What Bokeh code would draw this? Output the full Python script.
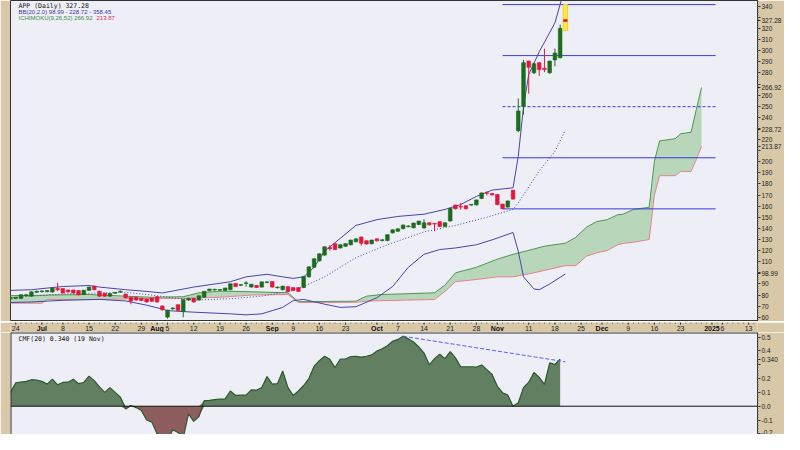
from bokeh.plotting import figure
from bokeh.layouts import column
from bokeh.models import Range1d, FixedTicker, Label, Span
from bokeh.embed import file_html
from bokeh.resources import INLINE

# ---------------- data (x = trading-day index, 0 = 21 Jun 2024) ----------------
opens = [76.5, 77.0, 77.0, 79.3, 79.0, 82.5, 83.0, 83.0, 82.7, 85.5,
         85.4, 84.2, 84.2, 83.7, 80.5, 84.2, 87.7, 83.1, 81.3, 79.0,
         81.7, 82.8, 80.5, 77.6, 77.6, 76.7, 76.0, 77.0, 78.1, 69.8,
         60.2, 67.6, 70.9, 65.1, 75.5, 76.7, 75.5, 78.1, 84.0, 84.6,
         84.4, 84.2, 84.8, 90.0, 88.8, 90.4, 87.2, 88.3, 87.2, 91.3,
         91.8, 86.6, 84.8, 87.2, 86.3, 86.3, 86.8, 96.4, 105.0, 110.8,
         116.0, 122.5, 125.9, 122.4, 123.9, 125.3, 128.0, 131.9, 128.5, 126.2,
         130.2, 129.0, 129.1, 136.0, 137.5, 139.8, 141.6, 140.6, 143.6, 140.4,
         144.7, 144.1, 145.6, 141.8, 146.7, 160.6, 159.4, 160.0, 161.0, 161.2,
         167.0, 171.8, 171.0, 170.2, 161.5, 159.2, 174.0, 228.0, 249.7, 290.3,
         280.1, 288.8, 283.8, 280.1, 291.7, 293.7, 327.8]
highs = [78.5, 78.3, 80.6, 80.8, 83.2, 84.0, 84.3, 84.5, 86.4, 91.1,
         86.0, 84.8, 84.8, 84.3, 84.6, 87.5, 88.4, 83.7, 81.9, 81.6,
         82.8, 84.0, 81.2, 78.2, 78.2, 77.3, 76.6, 77.6, 78.8, 70.6,
         66.8, 69.0, 71.6, 76.2, 77.4, 77.3, 79.6, 83.6, 85.6, 85.6,
         85.3, 86.6, 90.4, 90.6, 90.0, 92.5, 90.0, 88.9, 92.1, 92.4,
         92.4, 87.6, 88.3, 87.8, 86.9, 86.9, 97.0, 105.8, 113.0, 117.5,
         123.8, 125.0, 126.6, 125.7, 126.6, 129.8, 130.9, 132.6, 129.2, 129.8,
         130.9, 130.2, 134.7, 139.0, 139.9, 143.4, 142.8, 145.1, 146.9, 148.2,
         145.3, 145.0, 146.3, 145.4, 158.4, 161.3, 163.0, 160.7, 162.0, 166.0,
         172.3, 173.5, 171.8, 170.9, 162.2, 165.1, 174.7, 257.0, 291.7, 291.0,
         289.4, 289.5, 301.8, 291.0, 301.8, 323.5, 341.5]
lows = [75.8, 76.2, 76.6, 78.8, 78.6, 81.8, 82.2, 82.4, 82.2, 83.3,
        81.4, 82.2, 81.4, 79.7, 80.0, 83.7, 84.3, 78.4, 78.5, 78.5,
        81.0, 82.0, 77.0, 71.8, 75.0, 74.5, 73.2, 73.8, 73.2, 66.0,
        58.8, 66.8, 65.4, 60.0, 74.9, 73.2, 75.0, 77.6, 83.4, 84.0,
        83.8, 83.7, 84.3, 87.2, 88.0, 87.5, 86.7, 86.3, 86.7, 90.6,
        86.6, 85.9, 84.3, 82.6, 83.7, 82.8, 86.3, 95.8, 104.4, 110.2,
        115.4, 120.0, 120.4, 121.8, 123.3, 124.7, 127.4, 124.5, 125.3, 125.6,
        128.2, 128.4, 128.5, 135.4, 136.9, 139.2, 141.0, 140.0, 143.0, 139.8,
        142.6, 137.5, 141.2, 141.2, 146.1, 157.1, 156.8, 157.1, 160.4, 160.6,
        166.4, 169.8, 169.6, 160.9, 157.6, 158.6, 165.8, 226.6, 242.5, 261.3,
        279.0, 277.2, 280.7, 279.2, 285.9, 293.0, 318.0]
closes = [77.5, 77.6, 79.9, 79.9, 82.5, 83.0, 83.3, 83.6, 85.7, 84.8,
          81.9, 82.8, 81.9, 80.2, 84.0, 86.8, 84.8, 79.0, 79.0, 81.0,
          82.0, 83.0, 77.6, 74.7, 75.5, 75.0, 73.8, 74.4, 73.8, 66.8,
          66.0, 68.0, 66.0, 75.5, 76.7, 73.8, 79.0, 83.0, 85.0, 84.8,
          84.5, 86.0, 89.8, 87.7, 89.0, 90.6, 89.4, 86.8, 91.5, 91.5,
          87.2, 86.8, 87.7, 83.1, 84.2, 83.3, 96.4, 105.0, 112.3, 116.7,
          123.0, 121.8, 121.0, 125.0, 125.9, 129.1, 130.2, 126.7, 125.9, 129.1,
          128.8, 129.3, 134.0, 138.3, 139.2, 142.7, 141.8, 144.4, 146.2, 144.7,
          143.2, 143.9, 141.8, 144.7, 157.7, 157.7, 159.2, 157.7, 161.2, 165.3,
          171.6, 171.6, 170.2, 161.5, 157.7, 164.4, 166.4, 245.4, 288.8, 285.1,
          287.9, 283.0, 283.0, 290.3, 297.5, 319.8, 327.28]

bb_up_idx = [0, 4, 7, 10, 15, 17, 22, 26, 29, 35, 42, 45, 49, 52, 54, 56, 58, 60, 63, 66,
             70, 74, 79, 83, 86, 89, 92, 96, 97, 98, 99, 101, 104, 106]
bb_upper = [84.2, 84.8, 86.3, 87.7, 88.6, 87.2, 84.8, 83.3, 81.9, 87.2, 92.0, 96.4, 98.7, 96.4,
            95.0, 96.4, 105.0, 119.5, 131.1, 142.7, 147.9, 150.8, 152.8, 157.1, 161.5, 168.8,
            174.5, 176.6, 205.0, 249.7, 278.6, 299.0, 325.0, 358.45]
bb_mid_idx = [0, 10, 22, 26, 31, 35, 42, 48, 54, 56, 60, 66, 72, 79, 85, 91, 94, 96, 97, 99,
              101, 104, 106]
bb_mid = [77.6, 81.0, 82.5, 80.5, 77.6, 75.5, 76.7, 79.0, 84.0, 87.7, 96.4, 113.7, 125.3,
          136.9, 142.7, 150.0, 154.3, 157.1, 163.0, 177.4, 191.8, 209.2, 228.72]
bb_low_idx = [0, 4, 10, 17, 22, 26, 29, 30, 35, 42, 45, 48, 50, 52, 54, 56, 60, 63, 66, 70,
              73, 76, 79, 82, 85, 89, 92, 96, 97, 98, 100, 101, 103, 106]
bb_lower = [73.3, 73.8, 75.3, 76.1, 74.7, 70.9, 67.4, 66.0, 64.6, 63.1, 62.2, 63.1, 66.0, 68.9,
            75.0, 76.1, 71.8, 68.9, 69.5, 77.6, 87.7, 105.0, 116.7, 121.0, 122.4, 125.3, 129.7,
            136.3, 119.5, 96.4, 85.5, 84.8, 90.0, 98.99]

cloud_idx = [0, 6, 7, 15, 22, 27, 33, 36, 40, 46, 53, 55, 66, 68, 71, 81, 83, 85, 89, 93,
             96, 100, 102, 106, 108, 110, 112, 114, 116, 117, 119, 122, 123, 124, 127, 128,
             130, 131, 132]
span_a = [79.5, 79.8, 80.0, 80.5, 79.0, 78.0, 78.5, 82.0, 83.5, 83.0, 82.0, 74.0, 74.5, 79.0,
          80.5, 82.0, 89.0, 100.0, 105.0, 112.3, 116.7, 121.5, 124.0, 126.7, 132.0, 141.0,
          146.2, 147.9, 152.3, 152.8, 157.1, 159.0, 200.5, 218.8, 220.8, 225.2, 226.6, 246.9,
          266.92]
span_b = [72.7, 72.7, 76.0, 76.0, 76.5, 77.0, 77.0, 77.5, 78.0, 80.0, 80.5, 73.3, 73.5, 74.5,
          75.0, 76.0, 83.3, 92.0, 94.0, 96.4, 96.4, 100.0, 102.2, 106.5, 106.5, 115.0, 118.0,
          120.1, 125.3, 126.5, 127.6, 130.0, 170.0, 187.5, 187.5, 191.3, 191.3, 202.0, 213.87]

quad_start = 94
quad_end = 134.7
quad_levels = [157.6, 203.6, 249.6, 295.6, 341.5]

cmf = [0.10, 0.17, 0.175, 0.18, 0.192, 0.19, 0.18, 0.16, 0.196, 0.155,
       0.172, 0.174, 0.195, 0.163, 0.172, 0.218, 0.185, 0.14, 0.10, 0.135,
       0.10, 0.065, -0.02, 0.005, -0.01, -0.03, -0.10, -0.115, -0.20, -0.23,
       -0.25, -0.17, -0.19, -0.23, -0.055, -0.11, -0.075, 0.04, 0.042, 0.048,
       0.052, 0.053, 0.11, 0.078, 0.08, 0.08, 0.118, 0.116, 0.135, 0.215,
       0.16, 0.163, 0.255, 0.135, 0.078, 0.11, 0.15, 0.20, 0.29, 0.33,
       0.362, 0.34, 0.28, 0.342, 0.342, 0.36, 0.361, 0.356, 0.362, 0.372,
       0.40, 0.416, 0.438, 0.47, 0.484, 0.507, 0.488, 0.465, 0.43, 0.385,
       0.30, 0.344, 0.377, 0.345, 0.396, 0.35, 0.286, 0.286, 0.286, 0.284,
       0.298, 0.265, 0.23, 0.144, 0.098, 0.08, 0.0, 0.025, 0.135, 0.174,
       0.244, 0.209, 0.158, 0.314, 0.302, 0.34]
cmf_trend_idx = [75, 106]
cmf_trend = [0.507, 0.322]

day_idx = [1, 10, 15, 20, 25, 30, 35, 40, 45, 54, 59, 64, 74, 79, 84, 89, 99, 104, 109, 118,
           123, 128, 136, 141]
day_lbl = ["24", "8", "15", "22", "29", "5", "12", "19", "26", "9", "16", "23", "7", "14",
           "21", "28", "11", "18", "25", "9", "16", "23", "6", "13"]
month_idx = [6, 28, 50, 70, 93, 113, 134]
month_lbl = ["Jul", "Aug", "Sep", "Oct", "Nov", "Dec", "2025"]
all_days = list(range(0, 143))

price_ticks = [60, 70, 80, 90, 100, 110, 120, 130, 140, 150, 160, 170, 180, 190, 200, 210,
               220, 230, 240, 250, 260, 270, 280, 290, 300, 310, 320, 330, 340]
price_hidden = [100, 210, 230, 270, 330]
last_vals = [327.28, 266.92, 228.72, 213.87, 98.99]
last_txt = ["327.28", "266.92", "228.72", "213.87", "98.99"]
cmf_ticks = [-0.2, -0.1, 0, 0.1, 0.2, 0.3, 0.4, 0.5]
cmf_tick_txt = ["-0.2", "-0.1", "0.0", "0.1", "0.2", "", "0.4", "0.5"]
cmf_last = 0.34
cmf_last_txt = "0.340"

# ---------------- styling ----------------
TAN = "#d8c8a8"
BG = "#eeeef7"
W = 784
LEFT, RIGHT = 10, 27
MAIN_H = 321
STRIP_H = 11
CMF_H = 102
UP, DOWN = "#1d6b1d", "#e3173e"
BB_COL = "#4646a6"
X0, X1 = 0.0, 142.7
CMF_Y0, CMF_Y1 = -0.205, 0.534


def style_axis(ax, size="6.5px", tick=3):
    ax.major_label_text_font_size = size
    ax.major_label_text_color = "#222222"
    ax.major_label_standoff = 1
    ax.major_tick_out = tick
    ax.major_tick_in = 0
    ax.minor_tick_out = 1
    ax.minor_tick_in = 0
    ax.axis_line_color = "#333333"
    ax.major_tick_line_color = "#333333"
    ax.minor_tick_line_color = "#666666"


x_range = Range1d(X0, X1)
p = figure(width=W, height=MAIN_H, x_range=x_range, y_range=Range1d(56.2, 345.2),
           output_backend="svg", toolbar_location=None, y_axis_location="right",
           x_axis_location=None, min_border_left=LEFT, min_border_right=RIGHT,
           min_border_top=0, min_border_bottom=0)
p.background_fill_color = BG
p.border_fill_color = TAN
p.outline_line_color = "#333333"
p.grid.visible = False

# Ichimoku cloud
p.varea(x=cloud_idx, y1=span_b, y2=span_a, fill_color="#a6cfa6", fill_alpha=0.75)
p.line(cloud_idx, span_a, line_color="#4f974f", line_width=1)
p.line(cloud_idx, span_b, line_color="#e38391", line_width=1)

# quadrant lines
solid_levels = [v for k, v in enumerate(quad_levels) if k != 2]
p.segment(x0=[quad_start] * 4, x1=[quad_end] * 4, y0=solid_levels, y1=solid_levels,
          line_color="#3b3bdc", line_width=1)
p.segment(x0=[quad_start], x1=[quad_end], y0=[quad_levels[2]], y1=[quad_levels[2]],
          line_color="#3b3bdc", line_width=1, line_dash="3 2")

# Bollinger bands
p.line(bb_up_idx, bb_upper, line_color=BB_COL, line_width=1)
p.line(bb_low_idx, bb_lower, line_color=BB_COL, line_width=1)
p.line(bb_mid_idx, bb_mid, line_color=BB_COL, line_width=1, line_dash="1 2")

# candles
n = len(closes) - 1
idx = list(range(n))
cols = [UP if closes[i] >= opens[i] else DOWN for i in idx]
p.segment(x0=idx, x1=idx, y0=lows[:n], y1=highs[:n], line_color=cols, line_width=1)
p.vbar(x=idx, width=0.7, bottom=[min(opens[i], closes[i]) for i in idx],
       top=[max(opens[i], closes[i]) + 0.4 for i in idx], fill_color=cols, line_color=cols,
       line_width=0.6)
# latest (highlighted) bar
p.vbar(x=[n], width=0.85, bottom=[lows[n]], top=[highs[n]], fill_color="#ffe84a",
       line_color="#f2cf2a")
p.vbar(x=[n], width=0.66, bottom=[closes[n] - 0.8], top=[opens[n]], fill_color=DOWN,
       line_color=DOWN)

# price axis (with last-value labels)
ya = p.yaxis[0]
ya.ticker = FixedTicker(ticks=price_ticks + last_vals, minor_ticks=list(range(56, 346, 2)))
ov = {t: "" for t in price_hidden}
ov.update({v: s for v, s in zip(last_vals, last_txt)})
ya.major_label_overrides = ov
style_axis(ya)

# legend texts (x in screen px from the plot's left edge, y in price units)
p.add_layout(Label(x=8, y=340.4, x_units="screen", text="APP (Daily) 327.28",
                   text_font="DejaVu Sans Mono", text_font_size="6.5px",
                   text_baseline="middle", text_color="#111111"))
p.add_layout(Label(x=8, y=334.6, x_units="screen", text="BB(20,2.0) 98.99 - 228.72 - 358.45",
                   text_font="Liberation Sans", text_font_size="6px",
                   text_baseline="middle", text_color="#3a3aa0"))
p.add_layout(Label(x=8, y=329.4, x_units="screen", text="ICHIMOKU(9,26,52) 266.92",
                   text_font="Liberation Sans", text_font_size="6px",
                   text_baseline="middle", text_color="#3f8a3f"))
p.add_layout(Label(x=86, y=329.4, x_units="screen", text="213.87",
                   text_font="Liberation Sans", text_font_size="6px",
                   text_baseline="middle", text_color="#e0304a"))

# ---------------- date strip ----------------
s = figure(width=W, height=STRIP_H, x_range=x_range, y_range=Range1d(0, 1),
           output_backend="svg", toolbar_location=None, x_axis_location=None,
           y_axis_location=None, min_border_left=LEFT, min_border_right=RIGHT,
           min_border_top=0, min_border_bottom=0)
s.background_fill_color = TAN
s.border_fill_color = TAN
s.outline_line_color = None
s.grid.visible = False
s.segment(x0=all_days, x1=all_days, y0=[1] * len(all_days), y1=[0.9] * len(all_days),
          line_color="#555555", line_width=1)
tick_all = day_idx + month_idx
s.segment(x0=tick_all, x1=tick_all, y0=[1] * len(tick_all), y1=[0.8] * len(tick_all),
          line_color="#333333", line_width=1)
s.text(x=day_idx, y=[0.45] * len(day_idx), text=day_lbl, text_font_size="7px",
       text_align="center", text_baseline="middle", text_color="#222222")
s.text(x=month_idx, y=[0.45] * len(month_idx), text=month_lbl, text_font_size="7px",
       text_font_style="bold", text_align="center", text_baseline="middle",
       text_color="#111111")

# ---------------- CMF panel ----------------
q = figure(width=W, height=CMF_H, x_range=x_range, y_range=Range1d(CMF_Y0, CMF_Y1),
           output_backend="svg", toolbar_location=None, y_axis_location="right",
           x_axis_location=None, min_border_left=LEFT, min_border_right=RIGHT,
           min_border_top=0, min_border_bottom=0)
q.background_fill_color = BG
q.border_fill_color = TAN
q.outline_line_color = None
q.grid.visible = False
cidx = list(range(len(cmf)))
q.varea(x=cidx, y1=0, y2=[max(v, 0) for v in cmf], fill_color="#627f62")
q.varea(x=cidx, y1=[min(v, 0) for v in cmf], y2=0, fill_color="#8e5d5d")
q.line(cidx, cmf, line_color="#2b5a2b", line_width=1.2)
q.add_layout(Span(location=0, dimension="width", line_color="#111111", line_width=1))
q.line(cmf_trend_idx, cmf_trend, line_color="#5b5bf5", line_width=1, line_dash="4 2")
# panel border (left and top only; the panel is cut at the bottom)
q.add_layout(Span(location=X0, dimension="height", line_color="#333333", line_width=2))
q.add_layout(Span(location=CMF_Y1, dimension="width", line_color="#333333", line_width=2))

cy = q.yaxis[0]
cy.ticker = FixedTicker(ticks=cmf_ticks + [cmf_last],
                        minor_ticks=[-0.2 + 0.02 * k for k in range(38)])
cov = {t: s_ for t, s_ in zip(cmf_ticks, cmf_tick_txt)}
cov[cmf_last] = cmf_last_txt
cy.major_label_overrides = cov
style_axis(cy)

q.add_layout(Label(x=8, y=0.485, x_units="screen", text="CMF(20) 0.340 (19 Nov)",
                   text_font="DejaVu Sans Mono", text_font_size="6.5px",
                   text_baseline="middle", text_color="#111111"))

layout = column(p, s, q, spacing=0)
open("out.html", "w").write(file_html(layout, INLINE))
